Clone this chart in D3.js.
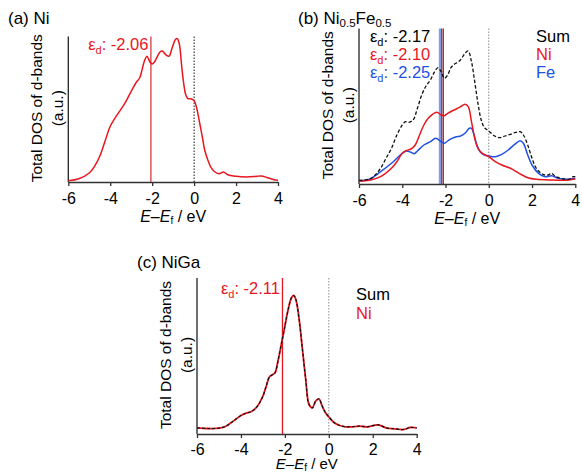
<!DOCTYPE html>
<html>
<head>
<meta charset="utf-8">
<script src="https://cdn.jsdelivr.net/npm/d3@7"></script>
<style>
body { margin: 0; background: #fff; }
svg text { font-family: "Liberation Sans", Arial, Helvetica, sans-serif; fill: #000; }
</style>
</head>
<body>
<div id="fig"></div>
<script>
var xTicks = [-6, -4, -2, 0, 2, 4];

// (a) Ni
var aE = [-6, -5.5, -5, -4.75, -4.5, -4.25, -4, -3.75, -3.5, -3.25, -3, -2.75, -2.6, -2.5, -2.4, -2.25, -2.1, -2.0, -1.9, -1.75, -1.6, -1.5, -1.35, -1.2, -1.05, -0.9, -0.8, -0.7, -0.6, -0.5, -0.4, -0.3, -0.15, 0, 0.1, 0.25, 0.4, 0.5, 0.65, 0.8, 1.0, 1.2, 1.4, 1.6, 2, 2.5, 3, 3.2, 3.5, 3.8, 4];
var aNi = [0.03, 0.23, 0.8, 1.47, 2.47, 3.97, 5.47, 6.37, 7.13, 7.97, 8.97, 9.9, 10.3, 10.97, 11.8, 12.47, 11.87, 11.7, 11.87, 12.47, 12.97, 12.97, 12.63, 12.47, 13.3, 14.13, 14.23, 13.63, 11.63, 9.8, 8.63, 8.23, 8.23, 8.03, 7.47, 5.97, 4.3, 3.13, 2.13, 1.37, 0.9, 0.73, 0.9, 0.63, 0.47, 0.4, 0.47, 0.5, 0.33, 0.13, 0.07];
var aCenter = [-2.06];

// (b) Ni0.5Fe0.5
var bSumE = [-6, -5.5, -5.25, -5, -4.75, -4.5, -4.25, -4, -3.85, -3.7, -3.5, -3.3, -3.1, -2.9, -2.7, -2.5, -2.35, -2.2, -2.05, -1.9, -1.75, -1.6, -1.4, -1.25, -1.1, -0.95, -0.8, -0.65, -0.5, -0.35, -0.2, 0, 0.25, 0.5, 0.75, 1.0, 1.25, 1.45, 1.6, 1.8, 2.0, 2.2, 2.5, 2.75, 2.9, 3.1, 3.5, 3.75, 3.9, 4];
var bSum = [0.07, 0.2, 0.6, 1.27, 2.27, 3.27, 4.6, 5.6, 5.93, 5.87, 6.1, 7.27, 8.6, 9.5, 10.1, 10.93, 11.33, 10.93, 10.27, 10.6, 11.33, 11.67, 11.93, 12.27, 12.77, 13.0, 11.93, 9.93, 7.77, 6.1, 5.33, 5.0, 4.53, 4.33, 4.5, 4.67, 4.87, 4.93, 4.6, 3.6, 2.27, 1.27, 0.67, 0.6, 0.77, 0.43, 0.2, 0.2, 0.43, 0.43];
var bNiE = [-6, -5.5, -5, -4.5, -4.25, -4, -3.85, -3.6, -3.4, -3.2, -3.0, -2.8, -2.6, -2.4, -2.2, -2.05, -1.9, -1.7, -1.5, -1.3, -1.1, -0.95, -0.8, -0.65, -0.5, -0.3, 0, 0.3, 0.6, 1.0, 1.4, 1.8, 2.2, 3, 3.5, 4];
var bNi = [0, 0.07, 0.43, 1.27, 1.93, 2.77, 3.0, 3.2, 3.6, 4.6, 5.6, 6.27, 6.67, 6.87, 6.6, 6.53, 6.77, 7.0, 7.2, 7.43, 7.67, 7.43, 5.93, 4.27, 3.27, 2.77, 2.43, 1.93, 1.6, 1.27, 0.77, 0.33, 0.17, 0.1, 0.07, 0.2];
var bFeE = [-6, -5.5, -5, -4.5, -4.25, -4, -3.8, -3.6, -3.45, -3.3, -3.0, -2.7, -2.45, -2.2, -2.05, -1.9, -1.7, -1.5, -1.3, -1.1, -0.9, -0.8, -0.7, -0.55, -0.4, -0.2, 0, 0.3, 0.6, 0.9, 1.2, 1.45, 1.6, 1.8, 2.0, 2.3, 2.6, 2.9, 3.2, 3.6, 4];
var bFe = [0, 0.2, 0.93, 1.77, 2.27, 2.77, 3.0, 2.87, 2.73, 3.0, 3.6, 3.93, 4.27, 3.93, 3.77, 4.0, 4.27, 4.43, 4.5, 4.77, 5.27, 5.27, 4.77, 3.6, 2.93, 2.6, 2.5, 2.43, 2.67, 3.1, 3.67, 4.03, 3.77, 2.6, 1.6, 0.77, 0.43, 0.53, 0.27, 0.17, 0.27];
var bCenter = [-2.17, -2.10, -2.25]; // Sum, Ni, Fe

// (c) NiGa
var cE = [-6, -5.5, -5, -4.75, -4.5, -4.25, -4.0, -3.8, -3.5, -3.25, -3.0, -2.85, -2.7, -2.55, -2.45, -2.3, -2.15, -2.0, -1.85, -1.7, -1.6, -1.5, -1.35, -1.2, -1.05, -0.9, -0.75, -0.6, -0.45, -0.3, -0.15, 0, 0.25, 0.5, 0.75, 1.0, 1.4, 1.75, 2.25, 2.6, 3.0, 3.4, 3.7, 4];
var cNi = [0.17, 0.1, 0.13, 0.27, 0.6, 1.0, 1.4, 1.6, 1.83, 2.33, 3.33, 4.33, 5.27, 5.5, 5.67, 7.0, 8.67, 10.33, 12.0, 13.17, 13.4, 13.0, 11.0, 8.0, 5.0, 2.5, 2.17, 2.83, 3.07, 2.33, 1.67, 1.27, 0.67, 0.4, 0.27, 0.27, 0.33, 0.27, 0.47, 0.17, 0.07, 0, 0.2, 0.17];
var cSum = cNi; // Ni carries the whole sum, the two curves overlap
var cCenter = [-2.11];

var RED = "#e8161e", BLUE = "#2150e6";

var svg = d3.select("#fig").append("svg")
	.attr("width", 582)
	.attr("height", 472);

function zip(E, v) {
	return E.map(function(e, i) { return [e, v[i]]; });
}

// one panel: axes, labels, zero line; returns the scales
function panel(left, right, top, bottom, yDomain, zeroColor, xLabelY, pad) {
	var x = d3.scaleLinear().domain([-6, 4]).range([left, right]);
	var y = d3.scaleLinear().domain(yDomain).range([bottom, top]);

	var xa = svg.append("g")
		.attr("transform", "translate(0," + bottom + ")")
		.call(d3.axisBottom(x).tickValues(xTicks).tickSize(4).tickSizeOuter(0).tickPadding(pad || 7)
			.tickFormat(function(d) { return String(d); }));
	xa.selectAll("text").style("font-size", "16px");
	xa.selectAll("path, line").attr("stroke", "#333").attr("stroke-width", 1.3);

	svg.append("line")
		.attr("x1", left).attr("x2", left)
		.attr("y1", top).attr("y2", bottom)
		.attr("stroke", "#222").attr("stroke-width", 1.3);

	svg.append("line")
		.attr("x1", x(0)).attr("x2", x(0))
		.attr("y1", top).attr("y2", bottom)
		.attr("stroke", zeroColor).attr("stroke-width", 1)
		.attr("stroke-dasharray", "1.5,1.5");

	// y label
	var yl = svg.append("g").attr("transform", "translate(" + (left - 26.5) + "," + ((top + bottom) / 2 - 1) + ") rotate(-90)");
	yl.append("text").attr("text-anchor", "middle").style("font-size", "15.5px").text("Total DOS of d-bands");
	yl.append("text").attr("text-anchor", "middle").attr("y", 21).style("font-size", "15.5px").text("(a.u.)");

	// x label
	var xl = svg.append("text")
		.attr("x", (left + right) / 2)
		.attr("y", xLabelY || bottom + 39.5)
		.attr("text-anchor", "middle")
		.style("font-size", xLabelY ? "15px" : "16px");
	xl.append("tspan").style("font-style", "italic").text("E");
	xl.append("tspan").text("\u2013");
	xl.append("tspan").style("font-style", "italic").text("E");
	xl.append("tspan").attr("dy", 2).style("font-size", "10px").text("f");
	xl.append("tspan").attr("dy", -2).text(" / eV");

	return { x: x, y: y, top: top, bottom: bottom };
}

function vline(s, e, color, width, opacity) {
	svg.append("line")
		.attr("x1", s.x(e)).attr("x2", s.x(e))
		.attr("y1", s.top).attr("y2", s.bottom)
		.attr("stroke", color).attr("stroke-width", width)
		.attr("opacity", opacity);
}

function curve(s, pts, color, width, dash) {
	var line = d3.line()
		.x(function(d) { return s.x(d[0]); })
		.y(function(d) { return s.y(d[1]); })
		.curve(d3.curveCatmullRom.alpha(0.5));
	svg.append("path")
		.attr("d", line(pts))
		.attr("fill", "none")
		.attr("stroke", color)
		.attr("stroke-width", width)
		.attr("stroke-dasharray", dash || null)
		.attr("stroke-linejoin", "round");
}

function centerLabel(x, y, anchor, color, value) {
	var t = svg.append("text")
		.attr("x", x).attr("y", y)
		.attr("text-anchor", anchor)
		.style("font-size", "16.5px")
		.style("fill", color);
	t.append("tspan").text("\u03b5");
	t.append("tspan").attr("dy", 4).style("font-size", "11px").text("d");
	t.append("tspan").attr("dy", -4).text(": " + value.toFixed(2));
}

function plain(x, y, color, txt, size) {
	svg.append("text")
		.attr("x", x).attr("y", y)
		.style("font-size", (size || 16.5) + "px")
		.style("fill", color)
		.text(txt);
}

// (a)
var sa = panel(68.3, 278, 36.5, 182, [-0.1, 14.45], "#111");
vline(sa, aCenter[0], "#d42a30", 1.2, 1);
curve(sa, zip(aE, aNi), RED, 1.5);
plain(8, 24, "#000", "(a) Ni", 17);
centerLabel(sa.x(aCenter[0]) - 2.5, 49.5, "end", RED, aCenter[0]);

// (b)
var sb = panel(359, 575.3, 28.5, 184, [-0.3, 15.25], "#888");
vline(sb, bCenter[2], "#5a7ee0", 2.6, 0.75);
vline(sb, bCenter[0], "#222", 1, 1);
vline(sb, bCenter[1], RED, 1.3, 1);
curve(sb, zip(bFeE, bFe), BLUE, 1.5);
curve(sb, zip(bNiE, bNi), RED, 1.5);
curve(sb, zip(bSumE, bSum), "#111", 1.3, "3.5,2");
var tb = svg.append("text").attr("x", 298).attr("y", 24).style("font-size", "17px");
tb.append("tspan").text("(b) Ni");
tb.append("tspan").attr("dy", 3).style("font-size", "11.5px").text("0.5");
tb.append("tspan").attr("dy", -3).text("Fe");
tb.append("tspan").attr("dy", 3).style("font-size", "11.5px").text("0.5");
centerLabel(370, 41.5, "start", "#000", bCenter[0]);
centerLabel(370, 60, "start", RED, bCenter[1]);
centerLabel(370, 78, "start", BLUE, bCenter[2]);
plain(536, 41.5, "#000", "Sum");
plain(536, 60, RED, "Ni");
plain(536, 78, BLUE, "Fe");

// (c)
var sc = panel(197, 416.7, 278, 434, [-0.45, 15.15], "#888", 469, 5.5);
vline(sc, cCenter[0], RED, 1.3, 1);
curve(sc, zip(cE, cNi), RED, 1.8);
curve(sc, zip(cE, cSum), "#111", 1.2, "3,2");
plain(137, 268, "#000", "(c) NiGa", 17);
centerLabel(sc.x(cCenter[0]) - 2.5, 294, "end", RED, cCenter[0]);
plain(356, 300, "#000", "Sum");
plain(356, 318.5, RED, "Ni");
</script>
</body>
</html>
